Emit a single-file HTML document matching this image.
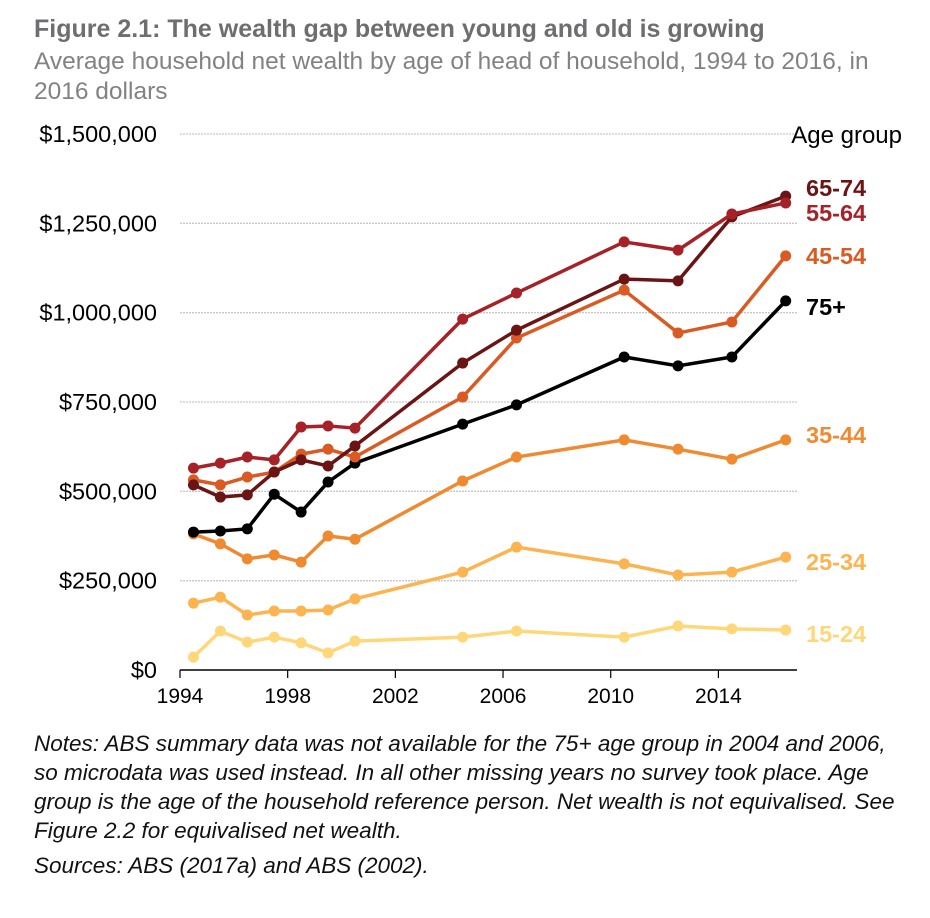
<!DOCTYPE html>
<html><head><meta charset="utf-8"><style>
body{margin:0;background:#fff;width:930px;height:918px;overflow:hidden;font-family:"Liberation Sans",Arial,sans-serif}
.t{position:absolute;left:34px;top:15px;font-size:25px;font-weight:bold;color:#6d6e71;white-space:nowrap}
.s{position:absolute;left:34px;top:47px;width:880px;font-size:24.5px;line-height:30px;color:#808285}
.n{position:absolute;left:34px;top:729px;width:878px;font-size:22.5px;line-height:29px;font-style:italic;color:#111}
</style></head><body>
<div class="t">Figure 2.1: The wealth gap between young and old is growing</div>
<div class="s">Average household net wealth by age of head of household, 1994 to 2016, in 2016 dollars</div>
<svg id="c" width="930" height="918" style="position:absolute;left:0;top:0"></svg>
<div class="n">Notes: ABS summary data was not available for the 75+ age group in 2004 and 2006, so microdata was used instead. In all other missing years no survey took place. Age group is the age of the household reference person. Net wealth is not equivalised. See Figure 2.2 for equivalised net wealth.<div style="margin-top:6px">Sources: ABS (2017a) and ABS (2002).</div></div>
<script>
const years=[1994.5,1995.5,1996.5,1997.5,1998.5,1999.5,2000.5,2004.5,2006.5,2010.5,2012.5,2014.5,2016.5];
const yTicks=[0,250000,500000,750000,1000000,1250000,1500000];
const yTickLabels=["$0","$250,000","$500,000","$750,000","$1,000,000","$1,250,000","$1,500,000"];
const xTicks=[1994,1998,2002,2006,2010,2014];
const seriesNames=["15-24","25-34","35-44","75+","45-54","65-74","55-64"];
const s1524=[36,109,78,92,76,48,81,92,109,92,123,115,112];
const s2534=[187,204,154,165,165,168,199,274,344,297,266,274,316];
const s3544=[381,353,311,322,302,375,366,529,596,644,618,590,644];
const s75=[386,389,395,492,442,526,579,688,742,876,851,876,1033];
const s4554=[532,518,540,554,604,618,596,764,929,1063,943,974,1159];
const s6574=[518,484,490,554,588,571,627,859,951,1094,1089,1268,1326];
const s5564=[565,579,596,588,680,683,677,982,1055,1198,1175,1276,1307];
const values=[s1524,s2534,s3544,s75,s4554,s6574,s5564];
const colors=["#fdd77a","#fbb450","#f08a30","#000000","#d95a23","#6b1414","#a62228"];
const labelY=[634,562,435,307,256,188,213];
const ns="http://www.w3.org/2000/svg";
const svg=document.getElementById('c');
const X=y=>180+(y-1994)*26.92;
const Y=v=>670-v/1500000*536;
function mk(t,a){const e=document.createElementNS(ns,t);for(const k in a)e.setAttribute(k,a[k]);svg.appendChild(e);return e;}
yTicks.forEach((v,i)=>{
 if(v>0){const g=mk('line',{x1:180,x2:797,y1:Y(v),y2:Y(v),stroke:'#c8c8c8','stroke-width':1.3,'stroke-dasharray':'2,1'});
 }
 const t=mk('text',{x:157,y:Y(v)+8,'text-anchor':'end','font-size':23.5,fill:'#000'});
 t.textContent=yTickLabels[i];
 
});
const ax=mk('line',{x1:180,x2:797,y1:670,y2:670,stroke:'#000','stroke-width':1.5});

xTicks.forEach(y=>{
 const tk=mk('line',{x1:X(y),x2:X(y),y1:670,y2:678,stroke:'#000','stroke-width':1.2});
 
 const t=mk('text',{x:X(y),y:703,'text-anchor':'middle','font-size':21});
 t.textContent=y;
 
});
const lg=mk('text',{x:902,y:143,'text-anchor':'end','font-size':24});
lg.textContent='Age group';

values.forEach((arr,i)=>{
 const p=mk('polyline',{points:arr.map((v,j)=>X(years[j])+','+Y(v*1000)).join(' '),fill:'none',stroke:colors[i],'stroke-width':3.5});
 
 arr.forEach((v,j)=>{const c=mk('circle',{cx:X(years[j]),cy:Y(v*1000),r:5.5,fill:colors[i]});
 });
 const t=mk('text',{x:806,y:labelY[i]+8,'font-size':23.5,'font-weight':'bold',fill:colors[i]});
 t.textContent=seriesNames[i];
 
});
</script>
</body></html>
